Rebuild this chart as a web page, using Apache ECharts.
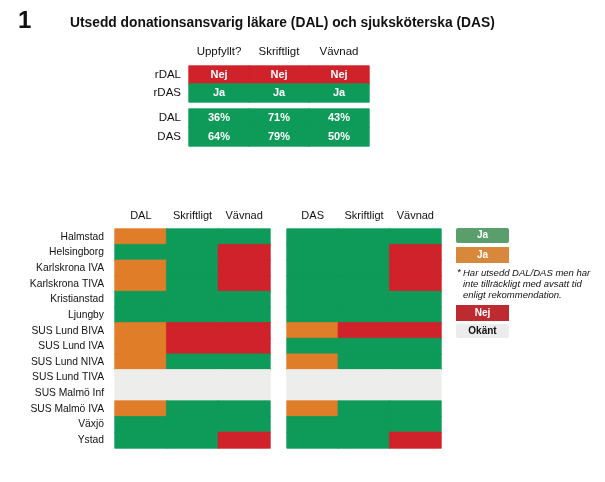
<!DOCTYPE html>
<html><head><meta charset="utf-8">
<script src="https://cdn.jsdelivr.net/npm/echarts@6/dist/echarts.min.js"></script>
<style>html,body{margin:0;padding:0;background:#fff}#c{width:605px;height:482px}</style>
</head><body><div id="c"></div>
<script>
// ---- data ----
const stations = ['Halmstad','Helsingborg','Karlskrona IVA','Karlskrona TIVA','Kristianstad','Ljungby','SUS Lund BIVA','SUS Lund IVA','SUS Lund NIVA','SUS Lund TIVA','SUS Malmö Inf','SUS Malmö IVA','Växjö','Ystad'];
const dalCols = ['DAL','Skriftligt','Vävnad'];
const dasCols = ['DAS','Skriftligt','Vävnad'];
// status codes: 0 = Okänt, 1 = Ja, 2 = Ja*, 3 = Nej
const dalStatus = [[2,1,1],[1,1,3],[2,1,3],[2,1,3],[1,1,1],[1,1,1],[2,3,3],[2,3,3],[2,1,1],[0,0,0],[0,0,0],[2,1,1],[1,1,1],[1,1,3]];
const dasStatus = [[1,1,1],[1,1,3],[1,1,3],[1,1,3],[1,1,1],[1,1,1],[2,3,3],[1,1,1],[2,1,1],[0,0,0],[0,0,0],[2,1,1],[1,1,1],[1,1,3]];
const regionCols = ['Uppfyllt?','Skriftligt','Vävnad'];
const regionRows = ['rDAL','rDAS'];
const regionStatus = [[3,3,3],[1,1,1]];
const shareRows = ['DAL','DAS'];
const shareValues = [[36,71,43],[64,79,50]];
const statusText = ['Okänt','Ja','Ja','Nej'];

const statusColor = ['#ededec', '#0e9b5a', '#e07d29', '#d0222b'];
const FONT = '"Liberation Sans", Arial, sans-serif';

function cells(matrix, extra){
  const out = [];
  matrix.forEach((row, r) => row.forEach((v, c) => out.push({
    value:[c, r, v, extra ? extra[r][c] : statusText[v]],
    itemStyle:{color:statusColor[v], borderColor:statusColor[v], borderWidth:0.8}
  })));
  return out;
}

const chart = echarts.init(document.getElementById('c'), null, {renderer:'canvas'});
const hideAxis = {axisLine:{show:false}, axisTick:{show:false}, splitLine:{show:false}};

const option = {
  animation:false,
  textStyle:{fontFamily:FONT},
  title:{text:'Utsedd donationsansvarig läkare (DAL) och sjuksköterska (DAS)', left:70, top:16, padding:0,
    textStyle:{fontSize:13.8, fontWeight:'bold', color:'#111', fontFamily:FONT}},
  graphic:[
    {type:'text', left:18, top:9, style:{text:'1', font:'bold 24px '+FONT, fill:'#111'}},
    {type:'rect', shape:{x:456,y:228,width:53,height:15,r:2}, style:{fill:'#5a9e6c'}},
    {type:'text', x:482.5, y:235.5, style:{text:'Ja', font:'bold 10px '+FONT, fill:'#fff', align:'center', verticalAlign:'middle'}},
    {type:'rect', shape:{x:456,y:247,width:53,height:16,r:0}, style:{fill:'#d8883a'}},
    {type:'text', x:482.5, y:255, style:{text:'Ja', font:'bold 10px '+FONT, fill:'#fff', align:'center', verticalAlign:'middle'}},
    {type:'text', x:457, y:267.5, style:{text:'*', font:'italic 9.5px '+FONT, fill:'#111'}},
    {type:'text', x:463, y:267.5, style:{text:'Har utsedd DAL/DAS men har\ninte tillräckligt med avsatt tid\nenligt rekommendation.', font:'italic 9.5px '+FONT, lineHeight:11, fill:'#111'}},
    {type:'rect', shape:{x:456,y:305,width:53,height:16,r:0}, style:{fill:'#bd2a2f'}},
    {type:'text', x:482.5, y:313, style:{text:'Nej', font:'bold 10px '+FONT, fill:'#fff', align:'center', verticalAlign:'middle'}},
    {type:'rect', shape:{x:456,y:324,width:53,height:14,r:2}, style:{fill:'#ececec'}},
    {type:'text', x:482.5, y:331, style:{text:'Okänt', font:'bold 10px '+FONT, fill:'#111', align:'center', verticalAlign:'middle'}}
  ],
  grid:[
    {left:189, top:66, width:180, height:36},
    {left:189, top:109, width:180, height:37},
    {left:115, top:229, width:155, height:219},
    {left:287, top:229, width:154, height:219}
  ],
  xAxis:[
    Object.assign({type:'category', gridIndex:0, data:regionCols, position:'top',
      axisLabel:{fontSize:11.5, color:'#111', margin:8}}, hideAxis),
    Object.assign({type:'category', gridIndex:1, data:regionCols, axisLabel:{show:false}}, hideAxis),
    Object.assign({type:'category', gridIndex:2, data:dalCols, position:'top',
      axisLabel:{fontSize:11, color:'#111', margin:8}}, hideAxis),
    Object.assign({type:'category', gridIndex:3, data:dasCols, position:'top',
      axisLabel:{fontSize:11, color:'#111', margin:8}}, hideAxis)
  ],
  yAxis:[
    Object.assign({type:'category', gridIndex:0, data:regionRows, inverse:true,
      axisLabel:{fontSize:11.5, color:'#111', margin:8}}, hideAxis),
    Object.assign({type:'category', gridIndex:1, data:shareRows, inverse:true,
      axisLabel:{fontSize:11.5, color:'#111', margin:8}}, hideAxis),
    Object.assign({type:'category', gridIndex:2, data:stations, inverse:true,
      axisLabel:{fontSize:10.3, color:'#111', margin:11}}, hideAxis),
    Object.assign({type:'category', gridIndex:3, data:stations, inverse:true,
      axisLabel:{show:false}}, hideAxis)
  ],
  series:[
    {type:'heatmap', xAxisIndex:0, yAxisIndex:0, data:cells(regionStatus),
      label:{show:true, formatter:p=>p.data.value[3], color:'#fff', fontWeight:'bold', fontSize:11}},
    {type:'heatmap', xAxisIndex:1, yAxisIndex:1, data:cells([[1,1,1],[1,1,1]], shareValues),
      label:{show:true, formatter:p=>p.data.value[3]+'%', color:'#fff', fontWeight:'bold', fontSize:11}},
    {type:'heatmap', xAxisIndex:2, yAxisIndex:2, data:cells(dalStatus)},
    {type:'heatmap', xAxisIndex:3, yAxisIndex:3, data:cells(dasStatus)}
  ]
};
chart.setOption(option);
</script></body></html>
